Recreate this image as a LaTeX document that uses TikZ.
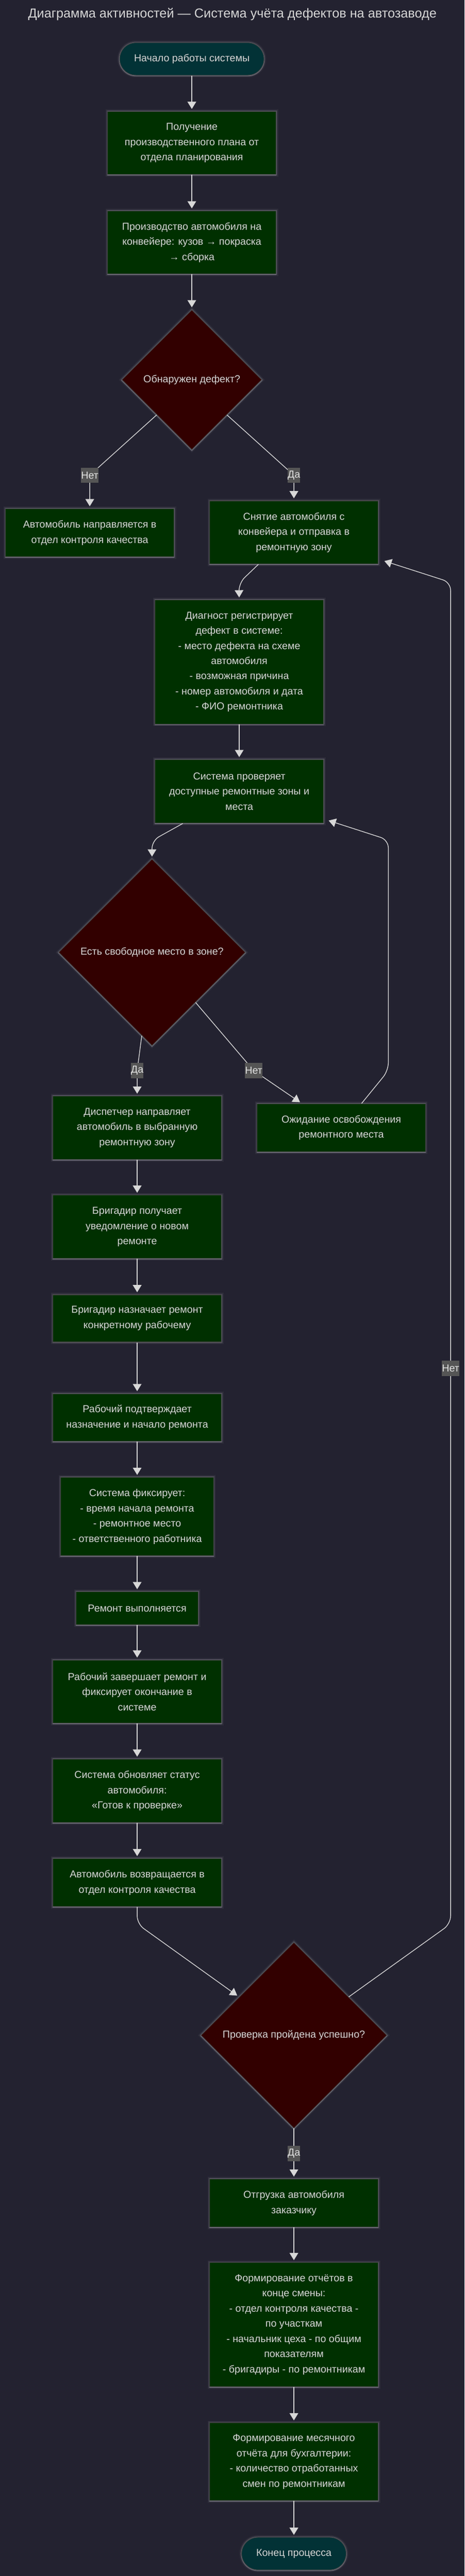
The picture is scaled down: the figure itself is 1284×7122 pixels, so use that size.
\documentclass[tikz,border=0pt]{standalone}
\usepackage{fontspec}
\setmainfont{Liberation Sans}
\usetikzlibrary{arrows.meta,shapes.geometric,calc}
\definecolor{bg}{RGB}{35,34,48}
\definecolor{boxg}{RGB}{0,48,0}
\definecolor{dia}{RGB}{50,0,0}
\definecolor{startc}{RGB}{2,50,54}
\definecolor{bord}{RGB}{70,70,70}
\definecolor{txt}{RGB}{214,214,214}
\definecolor{edgec}{RGB}{215,215,215}
\definecolor{lbl}{RGB}{85,85,85}
\definecolor{lbltxt}{RGB}{225,225,225}
\definecolor{glowc}{RGB}{190,190,200}
\tikzset{
  glow/.style={preaction={draw=glowc,line width=12pt,opacity=0.06},
               preaction={draw=glowc,line width=7pt,opacity=0.10},
               preaction={draw=glowc,line width=3.5pt,opacity=0.22},
               preaction={draw=glowc,line width=3pt,opacity=0.25,transform canvas={yshift=-2pt}}},
  basefont/.style={font=\fontsize{28}{42}\selectfont, text=txt, align=center},
  box/.style={basefont, glow, rectangle, fill=boxg, draw=bord, line width=1.5pt, minimum width=465pt, inner sep=0pt},
  term/.style={basefont, glow, rectangle, rounded corners=45pt, fill=startc, draw=bord, line width=1.5pt, minimum height=90pt, inner sep=0pt},
  dec/.style={basefont, glow, diamond, fill=dia, draw=bord, line width=1.5pt, inner sep=0pt},
  flow/.style={draw=edgec, line width=2pt, -{Triangle[width=24pt,length=20pt]}, shorten >=6pt, rounded corners=22pt},
  lab/.style={font=\fontsize{28}{42}\selectfont, text=lbltxt, fill=lbl, inner xsep=0pt, inner ysep=0pt, minimum height=42pt}
}
\begin{document}
\begin{tikzpicture}[x=1pt,y=-1pt]
\fill[bg] (0,0) rectangle (1284,7122);
\useasboundingbox (0,0) rectangle (1284,7122);

\node[font=\fontsize{36}{42}\selectfont, text=txt] (title) at (642,40) {Диаграмма активностей — Система учёта дефектов на автозаводе};

\node[term, minimum width=399pt] (start) at (530,163) {Начало работы системы};
\node[box, minimum height=174pt] (plan) at (530,395) {Получение\\производственного плана от\\отдела планирования};
\node[box, minimum height=174pt] (prod) at (530,670) {Производство автомобиля на\\конвейере: кузов → покраска\\→ сборка};
\node[dec, minimum width=387pt, minimum height=387pt] (d1) at (530,1050) {Обнаружен дефект?};
\node[box, minimum height=133pt] (qc1) at (248,1473) {Автомобиль направляется в\\отдел контроля качества};
\node[box, minimum height=175pt] (remove) at (812,1472) {Снятие автомобиля с\\конвейера и отправка в\\ремонтную зону};
\node[box, minimum height=343pt] (diag) at (661,1830) {Диагност регистрирует\\дефект в системе:\\- место дефекта на схеме\\автомобиля\\- возможная причина\\- номер автомобиля и дата\\- ФИО ремонтника};
\node[box, minimum height=176pt] (check) at (661,2188) {Система проверяет\\доступные ремонтные зоны и\\места};
\node[dec, minimum width=516pt, minimum height=516pt] (d2) at (420,2633) {Есть свободное место в зоне?};
\node[box, minimum height=175pt] (disp) at (379,3118) {Диспетчер направляет\\автомобиль в выбранную\\ремонтную зону};
\node[box, minimum height=133pt] (wait) at (943,3118) {Ожидание освобождения\\ремонтного места};
\node[box, minimum height=175pt] (brig1) at (379,3392) {Бригадир получает\\уведомление о новом\\ремонте};
\node[box, minimum height=131pt] (brig2) at (379,3645) {Бригадир назначает ремонт\\конкретному рабочему};
\node[box, minimum height=132pt] (work1) at (379,3919) {Рабочий подтверждает\\назначение и начало ремонта};
\node[box, minimum width=422pt, minimum height=217pt] (sysfix) at (379,4193) {Система фиксирует:\\- время начала ремонта\\- ремонтное место\\- ответственного работника};
\node[box, minimum width=337pt, minimum height=91pt] (repair) at (379,4446) {Ремонт выполняется};
\node[box, minimum height=175pt] (work2) at (379,4677) {Рабочий завершает ремонт и\\фиксирует окончание в\\системе};
\node[box, minimum height=175pt] (status) at (379,4951) {Система обновляет статус\\автомобиля:\\«Готов к проверке»};
\node[box, minimum height=133pt] (back) at (379,5205) {Автомобиль возвращается в\\отдел контроля качества};
\node[dec, minimum width=514pt, minimum height=514pt] (d3) at (812,5627) {Проверка пройдена успешно?};
\node[box, minimum height=133pt] (ship) at (812,6091) {Отгрузка автомобиля\\заказчику};
\node[box, minimum height=343pt] (report) at (812,6427) {Формирование отчётов в\\конце смены:\\- отдел контроля качества -\\по участкам\\- начальник цеха - по общим\\показателям\\- бригадиры - по ремонтникам};
\node[box, minimum height=215pt] (month) at (812,6806) {Формирование месячного\\отчёта для бухгалтерии:\\- количество отработанных\\смен по ремонтникам};
\node[term, minimum width=289pt] (end) at (812,7060) {Конец процесса};

\coordinate (l1) at (248,1314);
\coordinate (l2) at (812,1314);
\coordinate (l3) at (379,2960);
\coordinate (l4) at (701,2960);
\coordinate (l6) at (812,5954);

\draw[flow] (start) -- (plan);
\draw[flow] (plan) -- (prod);
\draw[flow] (prod) -- (d1);
\draw[flow] (d1.south west) -- (l1) -- (qc1.north);
\draw[flow] (d1.south east) -- (l2) -- (remove.north);
\draw[flow] ([xshift=-98pt]remove.south) -- (660,1612) -- (diag.north);
\draw[flow] (diag) -- (check);
\draw[flow] ([xshift=-156pt]check.south) -- (420,2324) -- (d2.north);
\draw[flow] (d2.-97) -- (l3) -- (disp.north);
\draw[flow] (d2.-49) -- (l4) -- ([xshift=-109pt]wait.north);
\draw[flow] ([xshift=56pt]wait.north) -- (1073,2960) -- (1073,2322) -- ([xshift=8pt,yshift=10pt]check.south east);
\draw[flow] (disp) -- (brig1);
\draw[flow] (brig1) -- (brig2);
\draw[flow] (brig2) -- (work1);
\draw[flow] (work1) -- (sysfix);
\draw[flow] (sysfix) -- (repair);
\draw[flow] (repair) -- (work2);
\draw[flow] (work2) -- (status);
\draw[flow] (status) -- (back);
\draw[flow] (back.south) -- (379,5319) -- (d3.145);
\draw[flow] (d3.35) -- (1245,5319) -- (1245,1610) -- ([xshift=11pt,yshift=11pt]remove.south east);
\draw[flow] (d3.south) -- (l6) -- (ship.north);
\draw[flow] (ship) -- (report);
\draw[flow] (report) -- (month);
\draw[flow] (month) -- (end);

\node[lab] (n1) at (l1) {Нет};
\node[lab] (n2) at (l2) {Да};
\node[lab] (n3) at (l3) {Да};
\node[lab] (n4) at (l4) {Нет};
\node[lab] (n5) at (1245,3783) {Нет};
\node[lab] (n6) at (l6) {Да};
\end{tikzpicture}
\end{document}
